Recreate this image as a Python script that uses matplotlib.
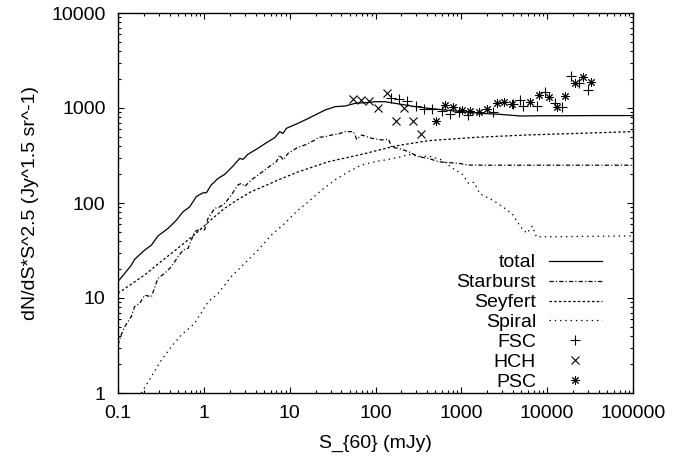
import matplotlib
matplotlib.use('Agg')
import matplotlib.pyplot as plt
from matplotlib.ticker import FixedLocator, FixedFormatter, LogLocator, NullFormatter

# model curves, S in mJy, value in Jy^1.5 sr^-1
total_s = [0.1, 0.12, 0.143, 0.156, 0.205, 0.245, 0.292, 0.383, 0.479, 0.573, 0.684, 0.818,
           0.98, 1.07, 1.22, 1.47, 1.75, 2.19, 2.62, 2.86, 3.27, 4.28, 5.36, 6.7, 7.66, 8.38,
           9.16, 12.5, 15.1, 19.8, 25.9, 33.9, 44.3, 58, 75.7, 99, 129, 169, 221, 290, 414,
           647, 1010, 1660, 2830, 4840, 8280, 14200, 34600, 100000]
total_v = [14.9, 18.2, 22.2, 25.5, 32, 36, 45, 54, 66, 81, 91, 117,
           128, 128, 155, 182, 200, 245, 295, 288, 326, 377, 431, 487, 564, 541,
           611, 690, 748, 844, 953, 1033, 1050, 1120, 1138, 1165, 1165, 1120, 1077, 1033, 993,
           953, 914, 879, 857, 824, 829, 829, 832, 832]

starburst_s = [0.1, 0.109, 0.12, 0.143, 0.156, 0.179, 0.205, 0.245, 0.292, 0.35, 0.419, 0.5,
               0.573, 0.655, 0.783, 0.936, 1.02, 1.12, 1.34, 1.53, 1.75, 2.09, 2.5, 2.74, 2.99,
               3.58, 4.28, 5.12, 6.12, 7.0, 7.66, 8.38, 9.58, 12.5, 15.1, 19.8, 21.6, 25.9, 30.9,
               37, 44.3, 55.3, 60.5, 69, 90.5, 118, 142, 155, 185, 242, 317, 414, 542, 708, 926,
               1211, 2000, 100000]
starburst_v = [3.2, 4.1, 5.0, 6.4, 8.1, 8.8, 10.7, 10.3, 16.1, 18.2, 21.4, 27.2,
               32, 33.3, 50, 54, 52, 69, 88, 91, 99, 121, 155, 161, 149,
               175, 197, 222, 251, 272, 320, 284, 333, 386, 408, 461, 491, 499, 520,
               533, 564, 564, 468, 520, 480, 461, 468, 386, 377, 347, 307, 295, 272, 266, 262,
               251, 250, 250]

seyfert_s = [0.1, 0.143, 0.205, 0.292, 0.419, 0.598, 0.857, 1.22, 1.75, 2.5, 3.58, 5.12, 7.34,
             12.5, 28.3, 69, 169, 414, 1450, 5800, 100000]
seyfert_v = [11.2, 14, 17.5, 22.8, 29.5, 38.2, 50, 67, 88, 109, 132, 151, 175,
             212, 272, 325, 398, 453, 491, 520, 564]

spiral_s = [0.187, 0.245, 0.32, 0.419, 0.548, 0.783, 1.12, 1.47, 2.09, 2.99, 4.28, 6.12, 8.75,
            12.5, 16.5, 23.6, 33.8, 48.4, 69, 99, 142, 202, 242, 346, 414, 591, 847, 1012, 1211,
            1400, 1650, 2330, 3100, 4000, 4900, 5800, 6700, 7500, 100000]
spiral_v = [1.0, 1.49, 2.22, 3.08, 4.09, 5.41, 9.1, 11.2, 16.8, 23.2, 32, 46, 61,
            84, 103, 137, 175, 214, 251, 272, 288, 307, 325, 307, 313, 284, 222, 205, 161,
            165, 125, 107, 90, 75, 56, 48, 57, 44, 45]

# observed counts
fsc_s = [150, 188, 235, 295, 368, 460, 593, 741, 951, 1210, 2365, 4050, 4840, 5210, 7590,
         9490, 12400, 14800, 18900, 23800, 29800]
fsc_v = [1265, 1245, 1175, 1057, 977, 977, 937, 859, 902, 844, 914, 1101, 1213, 1057, 1057,
         1486, 1119, 1033, 2173, 1820, 1546]

hch_s = [54, 67, 84, 108, 135, 174, 217, 277, 340]
hch_v = [1245, 1213, 1194, 1007, 1429, 729, 993, 729, 528]

psc_s = [508, 647, 810, 1010, 1270, 1590, 1980, 2590, 3100, 3880, 6340, 7930, 10400, 13000,
         16200, 21200, 26000, 32600]
psc_v = [724, 1073, 1033, 953, 930, 914, 968, 1119, 1165, 1101, 1148, 1371, 1297, 1033,
         1337, 1820, 2138, 1860]

x_ticks = [0.1, 1, 10, 100, 1000, 10000, 100000]
x_labels = ['0.1', '1', '10', '100', '1000', '10000', '100000']
y_ticks = [1, 10, 100, 1000, 10000]
y_labels = ['1', '10', '100', '1000', '10000']

plt.rcParams['font.family'] = ['Liberation Sans', 'DejaVu Sans']
plt.rcParams['font.size'] = 14
plt.rcParams['lines.scale_dashes'] = False

fig = plt.figure(figsize=(6.88, 4.57), dpi=100)
ax = fig.add_axes([118 / 688, 64 / 457, 515 / 688, 380 / 457])

lw = 0.9
ax.plot(total_s, total_v, color='black', lw=lw, ls='-', label='total')
ax.plot(starburst_s, starburst_v, color='black', lw=lw, ls=(0, (3.0, 1.6, 0.8, 1.6)), label='Starburst')
ax.plot(seyfert_s, seyfert_v, color='black', lw=lw, ls=(0, (1.8, 1.6)), label='Seyfert')
ax.plot(spiral_s, spiral_v, color='black', lw=lw, ls=(0, (1.0, 2.8)), label='Spiral')
ax.plot(fsc_s, fsc_v, ls='none', marker='+', ms=6.5, mew=0.8, color='black', label='FSC')
ax.plot(hch_s, hch_v, ls='none', marker='x', ms=5.5, mew=0.8, color='black', label='HCH')
ax.plot(psc_s, psc_v, ls='none', marker=(8, 2, 0), ms=6, mew=0.7, color='black', label='PSC')

ax.set_xscale('log')
ax.set_yscale('log')
ax.set_xlim(0.1, 100000)
ax.set_ylim(1, 10000)

ax.xaxis.set_major_locator(FixedLocator(x_ticks))
ax.xaxis.set_major_formatter(FixedFormatter(x_labels))
ax.yaxis.set_major_locator(FixedLocator(y_ticks))
ax.yaxis.set_major_formatter(FixedFormatter(y_labels))
ax.xaxis.set_minor_locator(LogLocator(base=10, subs=range(2, 10), numticks=20))
ax.yaxis.set_minor_locator(LogLocator(base=10, subs=range(2, 10), numticks=20))
ax.xaxis.set_minor_formatter(NullFormatter())
ax.yaxis.set_minor_formatter(NullFormatter())

ax.tick_params(which='both', direction='in', top=True, right=True, width=0.8, labelsize=14)
ax.tick_params(which='major', length=4.5)
ax.tick_params(which='minor', length=2.5)
ax.tick_params(axis='x', which='major', pad=9)
ax.tick_params(axis='y', which='major', pad=9)
for sp in ax.spines.values():
    sp.set_linewidth(1.0)

ax.set_xlabel('S_{60} (mJy)', fontsize=14, labelpad=9)
ax.set_ylabel('dN/dS*S^2.5 (Jy^1.5 sr^-1)', fontsize=14, labelpad=9)

ax.legend(loc='lower right', bbox_to_anchor=(0.94, 0.005), frameon=False, markerfirst=False,
          fontsize=14, handlelength=2.75, handletextpad=0.65, labelspacing=0.12,
          borderpad=0, borderaxespad=0, numpoints=1)

fig.savefig('out.png', dpi=100)
